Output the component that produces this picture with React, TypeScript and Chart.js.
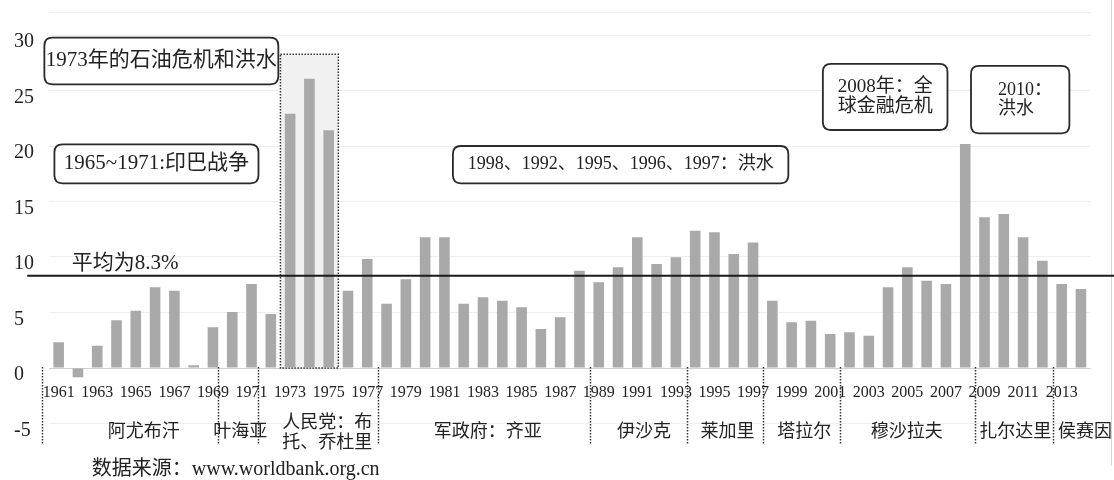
import { useEffect, useRef } from "react";
import { Chart, registerables } from "chart.js";

Chart.register(...registerables);

// ---------- data ----------
const YEARS = [
  "1961", "1962", "1963", "1964", "1965", "1966", "1967", "1968", "1969", "1970",
  "1971", "1972", "1973", "1974", "1975", "1976", "1977", "1978", "1979", "1980",
  "1981", "1982", "1983", "1984", "1985", "1986", "1987", "1988", "1989", "1990",
  "1991", "1992", "1993", "1994", "1995", "1996", "1997", "1998", "1999", "2000",
  "2001", "2002", "2003", "2004", "2005", "2006", "2007", "2008", "2009", "2010",
  "2011", "2012", "2013", "2014",
];

const INFLATION = [
  2.32, -0.84, 2.01, 4.3, 5.16, 7.27, 6.96, 0.24, 3.67, 5.05,
  7.57, 4.86, 22.9, 26.06, 21.41, 6.96, 9.82, 5.79, 7.99, 11.77,
  11.77, 5.79, 6.37, 6.06, 5.47, 3.51, 4.57, 8.77, 7.72, 9.07,
  11.77, 9.37, 9.97, 12.37, 12.23, 10.27, 11.3, 6.06, 4.12, 4.26,
  3.06, 3.22, 2.91, 7.27, 9.07, 7.86, 7.57, 20.18, 13.58, 13.87,
  11.77, 9.67, 7.57, 7.12,
];

const YEAR_TICK_LABELS = [
  "1961", "1963", "1965", "1967", "1969", "1971", "1973", "1975", "1977", "1979",
  "1981", "1983", "1985", "1987", "1989", "1991", "1993", "1995", "1997", "1999",
  "2001", "2003", "2005", "2007", "2009", "2011", "2013",
];

const Y_TICKS = [-5, 0, 5, 10, 15, 20, 25, 30];
const Y_MIN = -5;
const Y_MAX = 32;

const MEAN_VALUE = 8.3;
const MEAN_LABEL = "平均为8.3%";

const HIGHLIGHT_FROM = "1973";
const HIGHLIGHT_TO = "1975";
const HIGHLIGHT_TOP = 28.26;

// government periods: label lines, x position (category index units)
const GOV_NAMES = [
  ["阿尤布汗"], ["叶海亚"], ["人民党：布", "托、乔杜里"], ["军政府：齐亚"], ["伊沙克"],
  ["莱加里"], ["塔拉尔"], ["穆沙拉夫"], ["扎尔达里"], ["侯赛因"],
];
const GOV_X = [4.41, 9.41, 11.59, 22.24, 30.35, 34.68, 38.65, 43.97, 49.59, 53.21];
const GOV_ALIGN = ["center", "center", "left", "center", "center", "center", "center", "center", "center", "center"];

const SEPARATORS_X = [-0.87, 8.28, 10.33, 16.58, 27.55, 32.57, 36.52, 40.51, 47.51, 51.57];

const CALLOUT_TEXT = [
  ["1973年的石油危机和洪水"],
  ["1965~1971:印巴战争"],
  ["1998、1992、1995、1996、1997：洪水"],
  ["2008年：全", "球金融危机"],
  ["2010：", "洪水"],
];

const SOURCE_TEXT = "数据来源：www.worldbank.org.cn";

// ---------- layout / style constants ----------
const CALLOUT_BOX = [
  { x0: -0.74, x1: 11.39, y0: 29.76, y1: 25.56, size: 21, textLeft: null as number | null },
  { x0: -0.22, x1: 10.36, y0: 20.15, y1: 16.64, size: 21, textLeft: null as number | null },
  { x0: 20.44, x1: 37.83, y0: 20.0, y1: 16.64, size: 18, textLeft: null as number | null },
  { x0: 39.62, x1: 46.08, y0: 27.39, y1: 21.44, size: 19, textLeft: null as number | null },
  { x0: 47.3, x1: 52.4, y0: 27.21, y1: 21.14, size: 18, textLeft: 48.7 as number | null },
];

const FONT_FAMILY = '"Liberation Serif", "Times New Roman", "Noto Sans CJK SC", serif';
const TEXT_COLOR = "#222";
const BAR_COLOR = "#a9a9a9";

function roundRect(ctx: CanvasRenderingContext2D, x: number, y: number, w: number, h: number, r: number) {
  ctx.beginPath();
  ctx.moveTo(x + r, y);
  ctx.lineTo(x + w - r, y);
  ctx.quadraticCurveTo(x + w, y, x + w, y + r);
  ctx.lineTo(x + w, y + h - r);
  ctx.quadraticCurveTo(x + w, y + h, x + w - r, y + h);
  ctx.lineTo(x + r, y + h);
  ctx.quadraticCurveTo(x, y + h, x, y + h - r);
  ctx.lineTo(x, y + r);
  ctx.quadraticCurveTo(x, y, x + r, y);
  ctx.closePath();
}

const overlayPlugin = {
  id: "overlay",
  beforeDatasetsDraw(chart: any) {
    const { ctx } = chart;
    const x = chart.scales.x;
    const y = chart.scales.y;
    const i0 = YEARS.indexOf(HIGHLIGHT_FROM);
    const i1 = YEARS.indexOf(HIGHLIGHT_TO);
    const left = x.getPixelForValue(i0 - 0.5);
    const right = x.getPixelForValue(i1 + 0.5);
    const top = y.getPixelForValue(HIGHLIGHT_TOP);
    const bottom = y.getPixelForValue(0);
    ctx.save();
    ctx.fillStyle = "#f1f1f1";
    ctx.fillRect(left, top, right - left, bottom - top);
    ctx.setLineDash([1.5, 1.5]);
    ctx.strokeStyle = "#333";
    ctx.lineWidth = 1.5;
    ctx.strokeRect(left, top, right - left, bottom - top);
    ctx.restore();
  },
  afterDraw(chart: any) {
    const { ctx } = chart;
    const x = chart.scales.x;
    const y = chart.scales.y;
    ctx.save();

    // right frame line
    ctx.strokeStyle = "#d4d4d4";
    ctx.lineWidth = 1;
    ctx.beginPath();
    ctx.moveTo(chart.width - 2.5, 0);
    ctx.lineTo(chart.width - 2.5, y.getPixelForValue(-8.8));
    ctx.stroke();

    // mean line
    const my = y.getPixelForValue(MEAN_VALUE);
    ctx.strokeStyle = "#1a1a1a";
    ctx.lineWidth = 2;
    ctx.beginPath();
    ctx.moveTo(x.getPixelForValue(-1.63), my);
    ctx.lineTo(chart.width, my);
    ctx.stroke();

    // y tick labels
    ctx.fillStyle = TEXT_COLOR;
    ctx.font = `20px ${FONT_FAMILY}`;
    ctx.textAlign = "left";
    ctx.textBaseline = "middle";
    Y_TICKS.forEach((v) => {
      ctx.fillText(String(v), 14, y.getPixelForValue(v) + 7);
    });

    // mean label
    ctx.font = `21px ${FONT_FAMILY}`;
    ctx.fillText(MEAN_LABEL, x.getPixelForValue(0.68), y.getPixelForValue(9.46));

    // year labels
    ctx.font = `16px ${FONT_FAMILY}`;
    ctx.textAlign = "center";
    const yearY = y.getPixelForValue(-2.25);
    YEAR_TICK_LABELS.forEach((lab) => {
      const i = YEARS.indexOf(lab);
      ctx.fillText(lab, x.getPixelForValue(i), yearY);
    });

    // separators
    ctx.strokeStyle = "#333";
    ctx.lineWidth = 1.5;
    ctx.setLineDash([1.5, 1.5]);
    SEPARATORS_X.forEach((sx) => {
      const px = Math.round(x.getPixelForValue(sx)) + 0.5;
      ctx.beginPath();
      ctx.moveTo(px, y.getPixelForValue(0.1));
      ctx.lineTo(px, y.getPixelForValue(-6.94));
      ctx.stroke();
    });
    ctx.setLineDash([]);

    // government labels
    ctx.font = `18px ${FONT_FAMILY}`;
    GOV_NAMES.forEach((lines, k) => {
      ctx.textAlign = GOV_ALIGN[k] as CanvasTextAlign;
      const px = x.getPixelForValue(GOV_X[k]);
      if (lines.length === 1) {
        ctx.fillText(lines[0], px, y.getPixelForValue(-5.77));
      } else {
        ctx.fillText(lines[0], px, y.getPixelForValue(-4.95));
        ctx.fillText(lines[1], px, y.getPixelForValue(-6.76));
      }
    });

    // callout boxes
    CALLOUT_BOX.forEach((b, k) => {
      const bx0 = x.getPixelForValue(b.x0);
      const bx1 = x.getPixelForValue(b.x1);
      const by0 = y.getPixelForValue(b.y0);
      const by1 = y.getPixelForValue(b.y1);
      roundRect(ctx, bx0, by0, bx1 - bx0, by1 - by0, 8);
      ctx.fillStyle = "#ffffff";
      ctx.fill();
      ctx.strokeStyle = "#2a2a2a";
      ctx.lineWidth = 1.8;
      ctx.stroke();
      ctx.fillStyle = TEXT_COLOR;
      ctx.font = `${b.size}px ${FONT_FAMILY}`;
      const lines = CALLOUT_TEXT[k];
      const lh = b.size + 1;
      const cy = (by0 + by1) / 2;
      let tx = (bx0 + bx1) / 2;
      ctx.textAlign = "center";
      if (b.textLeft !== null) {
        tx = x.getPixelForValue(b.textLeft);
        ctx.textAlign = "left";
      }
      lines.forEach((ln, j) => {
        ctx.fillText(ln, tx, cy + (j - (lines.length - 1) / 2) * lh);
      });
    });

    // source
    ctx.textAlign = "left";
    ctx.font = `20px ${FONT_FAMILY}`;
    ctx.fillText(SOURCE_TEXT, x.getPixelForValue(1.72), y.getPixelForValue(-9.19));

    ctx.restore();
  },
};

export default function App() {
  const canvasRef = useRef<HTMLCanvasElement | null>(null);

  useEffect(() => {
    if (!canvasRef.current) return;
    const chart = new Chart(canvasRef.current, {
      type: "bar",
      data: {
        labels: YEARS,
        datasets: [
          {
            data: INFLATION,
            backgroundColor: BAR_COLOR,
            borderWidth: 0,
            barPercentage: 0.55,
            categoryPercentage: 1,
          },
        ],
      },
      options: {
        responsive: false,
        animation: false,
        layout: { padding: { top: 12.8, bottom: 56.5, left: 0, right: 23.4 } },
        plugins: { legend: { display: false }, tooltip: { enabled: false } },
        scales: {
          x: { display: false },
          y: {
            min: Y_MIN,
            max: Y_MAX,
            afterBuildTicks: (scale: any) => {
              scale.ticks = [...Y_TICKS, Y_MAX].map((v) => ({ value: v }));
            },
            afterFit: (scale: any) => {
              scale.width = 49;
            },
            ticks: { display: false },
            border: { display: false },
            grid: {
              drawTicks: false,
              lineWidth: 1,
              color: (c: any) => (c.tick && c.tick.value === 0 ? "#cfcfcf" : "#eeeeee"),
            },
          },
        },
      },
      plugins: [overlayPlugin],
    });
    return () => chart.destroy();
  }, []);

  return (
    <div style={{ position: "fixed", left: 0, top: 0, width: 1114, height: 480, background: "#fff" }}>
      <canvas ref={canvasRef} width={1114} height={480} style={{ display: "block" }} />
    </div>
  );
}
